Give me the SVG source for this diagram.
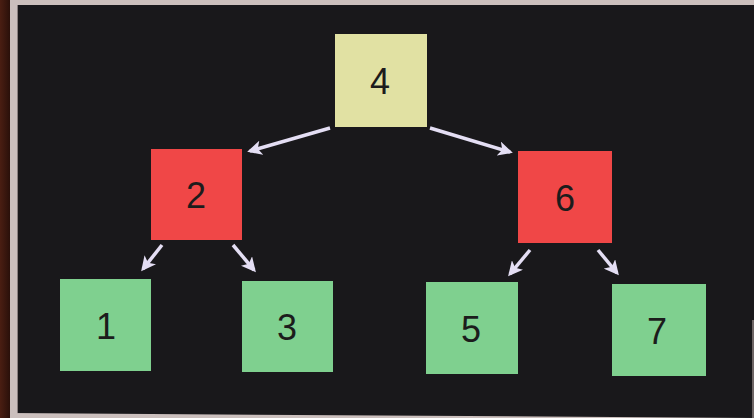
<svg xmlns="http://www.w3.org/2000/svg" width="754" height="418" viewBox="0 0 754 418">
<style>
.lbl{font-family:"Liberation Sans",Arial,sans-serif;font-size:36px;fill:#1c1c1c;text-anchor:middle;dominant-baseline:central}
.yel{fill:#e1e1a3}
.red{fill:#f04747}
.grn{fill:#7fd08f}
.edge{stroke:#e4def4;stroke-width:3.5;fill:none;marker-end:url(#ah)}
</style>
<defs>
<marker id="ah" viewBox="0 0 10 10" refX="8" refY="5" markerWidth="4.2" markerHeight="4.2" orient="auto" markerUnits="strokeWidth">
<path d="M0,0 L10,5 L0,10 L2.5,5 Z" fill="#e4def4"/>
</marker>
<linearGradient id="frameL" x1="0" y1="0" x2="1" y2="0">
<stop offset="0" stop-color="#4a1e12"/>
<stop offset="1" stop-color="#2a100a"/>
</linearGradient>
</defs>
<rect x="0" y="0" width="754" height="418" fill="#19181b"/>
<rect x="0" y="0" width="10" height="418" fill="url(#frameL)"/>
<rect x="10" y="0" width="744" height="5" fill="#cbbfbd"/>
<rect x="10" y="0" width="7" height="418" fill="#cbbfbd"/>
<rect x="17" y="5" width="1" height="408" fill="#8a8080"/>
<polygon points="10,413 754,418 754,418 10,418" fill="#cbbfbd"/>
<rect x="752" y="320" width="2" height="98" fill="#6e6666"/>
<g id="connectors">
<line class="edge" x1="330" y1="128" x2="250" y2="151"/>
<line class="edge" x1="430" y1="128" x2="510" y2="152"/>
<line class="edge" x1="162" y1="245" x2="143" y2="269"/>
<line class="edge" x1="233" y1="245" x2="254" y2="270"/>
<line class="edge" x1="530" y1="250" x2="510" y2="274"/>
<line class="edge" x1="598" y1="250" x2="617" y2="273"/>
</g>
<g id="node4"><rect class="yel" x="335" y="34" width="92" height="93"/><text class="lbl" x="380" y="81">4</text></g>
<g id="node2"><rect class="red" x="151" y="149" width="91" height="91"/><text class="lbl" x="196" y="195">2</text></g>
<g id="node6"><rect class="red" x="518" y="151" width="94" height="92"/><text class="lbl" x="565" y="198">6</text></g>
<g id="node1"><rect class="grn" x="60" y="279" width="91" height="92"/><text class="lbl" x="106" y="326">1</text></g>
<g id="node3"><rect class="grn" x="242" y="281" width="91" height="91"/><text class="lbl" x="287" y="327">3</text></g>
<g id="node5"><rect class="grn" x="426" y="282" width="92" height="92"/><text class="lbl" x="471" y="329">5</text></g>
<g id="node7"><rect class="grn" x="612" y="284" width="94" height="92"/><text class="lbl" x="657" y="331">7</text></g>
</svg>
